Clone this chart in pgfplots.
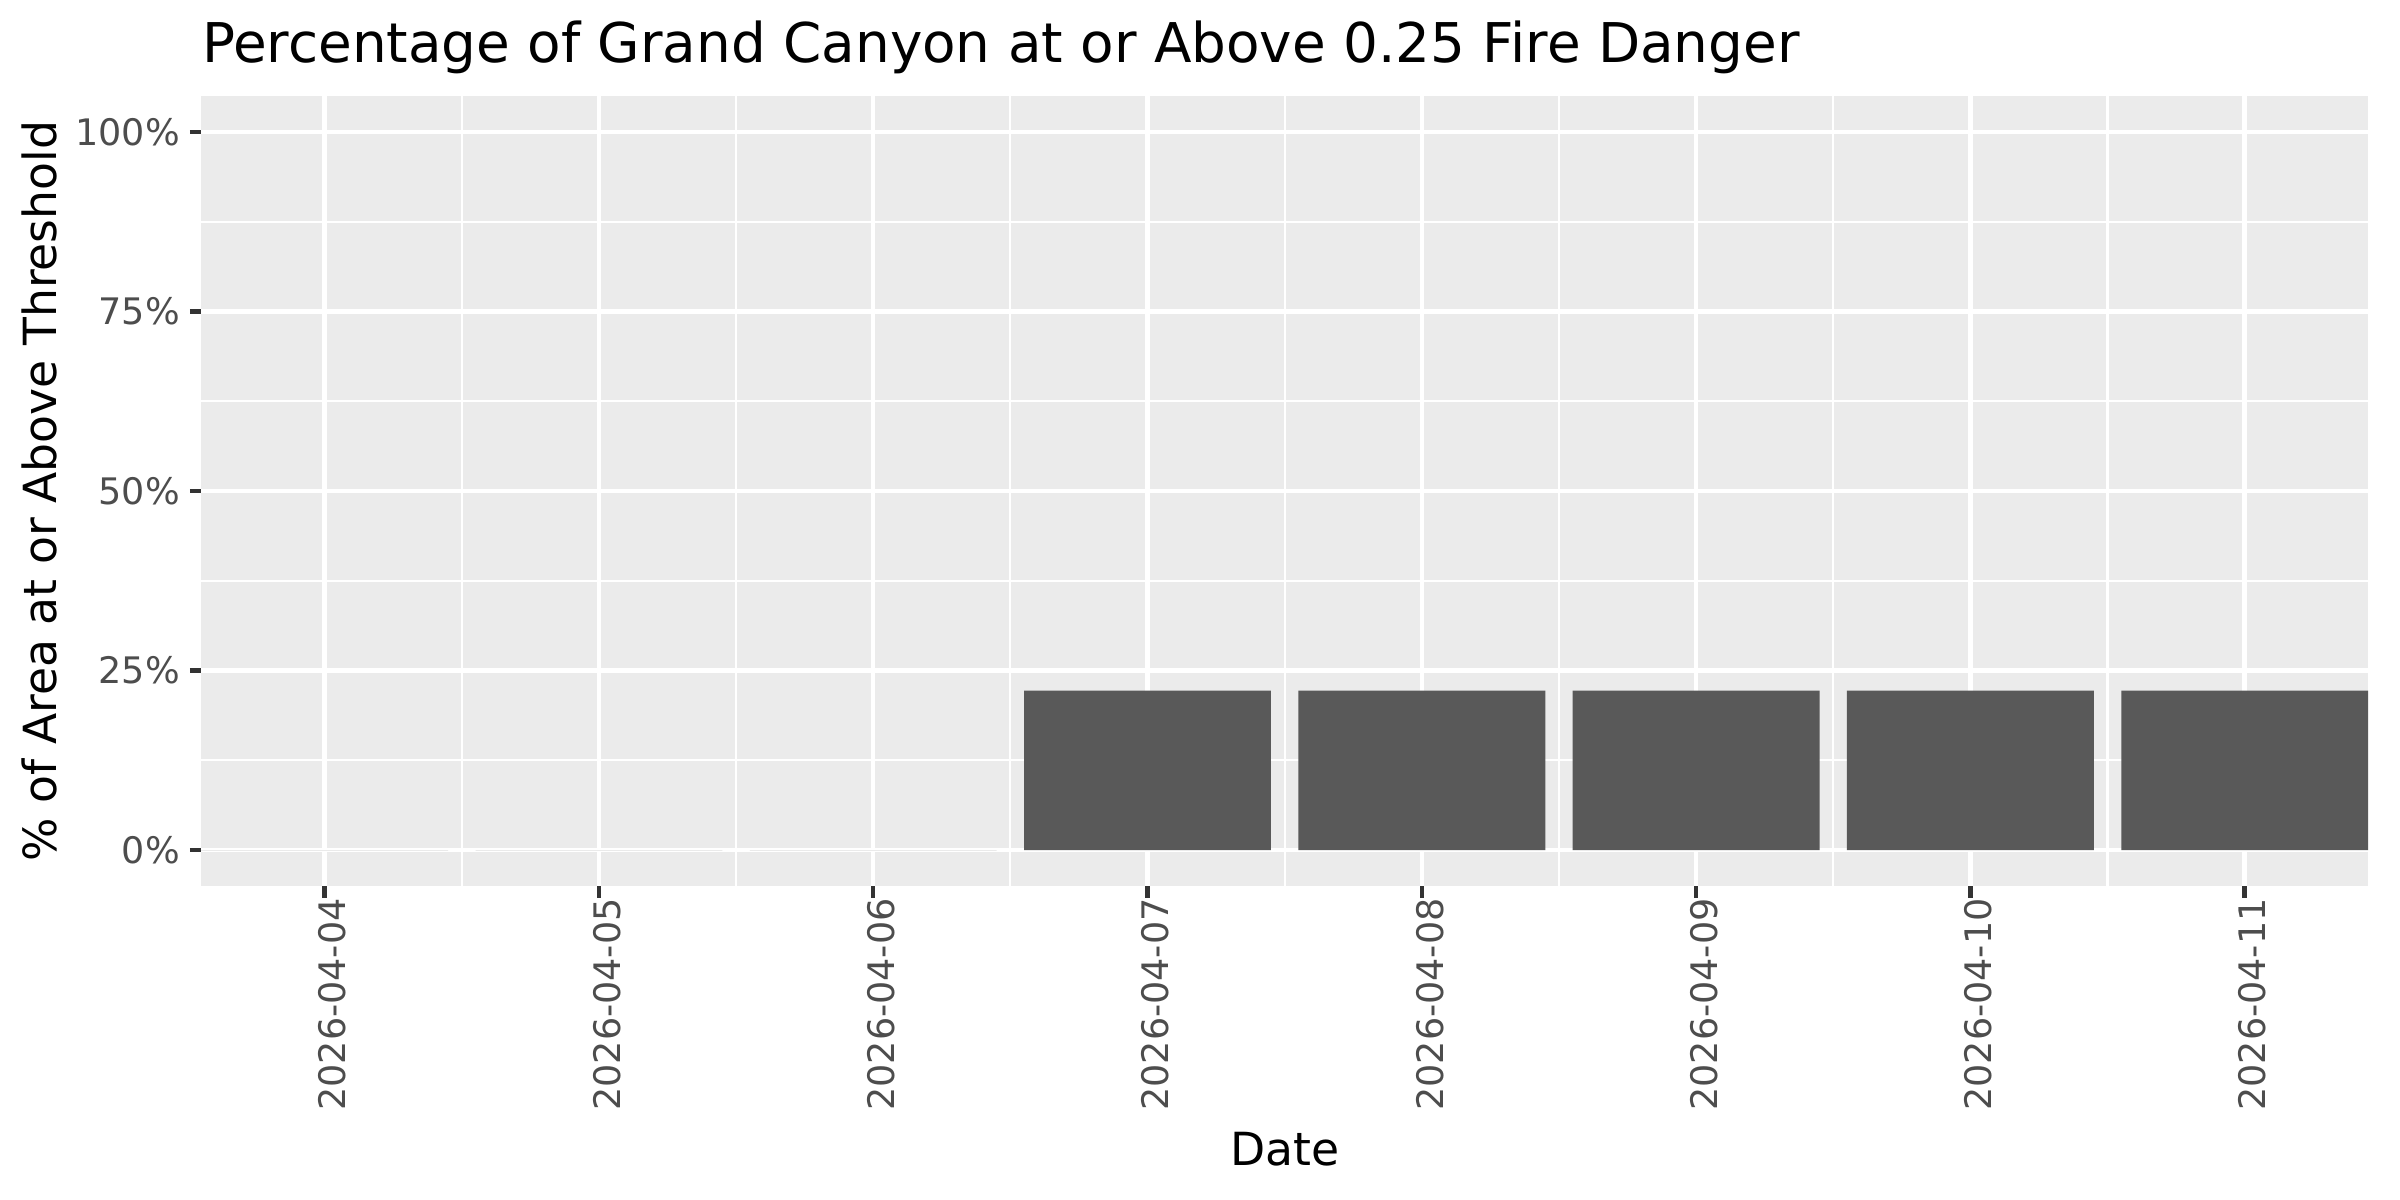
\documentclass[border=0pt]{standalone}
\usepackage{fontspec}
\setmainfont{DejaVu Sans}
\usepackage{pgfplots}
\pgfplotsset{compat=1.18}
\definecolor{panelbg}{HTML}{EBEBEB}
\definecolor{barfill}{HTML}{595959}
\definecolor{ticktext}{HTML}{4D4D4D}
\definecolor{tickmark}{HTML}{333333}
\begin{document}
\begin{tikzpicture}
\path[use as bounding box] (0,0) rectangle (578.16pt,289.08pt);
\begin{axis}[
    at={(48.48pt,75.62pt)}, anchor=south west,
    scale only axis,
    width=522pt, height=190.35pt,
    xmin=0.55, xmax=8.45,
    ymin=-5, ymax=105,
    axis background/.style={fill=panelbg},
    axis line style={draw=none},
    xtick={1,...,8},
    xticklabels={2026-04-04,2026-04-05,2026-04-06,2026-04-07,2026-04-08,2026-04-09,2026-04-10,2026-04-11},
    ytick={0,25,50,75,100},
    yticklabels={0\%,25\%,50\%,75\%,100\%},
    minor xtick={1.5,2.5,...,7.5},
    minor ytick={12.5,37.5,62.5,87.5},
    grid=both,
    major grid style={white, line width=1.07pt},
    minor grid style={white, line width=0.53pt},
    tick align=outside,
    major tick length=2.75pt,
    minor tick length=0pt,
    xtick pos=bottom, ytick pos=left,
    major tick style={tickmark, line width=1.07pt},
    xticklabel style={rotate=90, anchor=east, inner sep=0pt, yshift=-1.9pt,
        text=ticktext, font=\fontsize{8.8}{10}\selectfont},
    yticklabel style={anchor=east, inner sep=0pt, xshift=-2.2pt,
        text=ticktext, font=\fontsize{8.8}{10}\selectfont},
    every axis title shift=0pt,
    title={Percentage of Grand Canyon at or Above 0.25 Fire Danger},
    title style={at={(axis description cs:0,1.0426)}, anchor=base west,
        inner sep=0pt, font=\fontsize{13.2}{15}\selectfont},
    xlabel={Date},
    xlabel style={at={(axis description cs:0.5,-0.3537)}, anchor=base,
        inner sep=0pt, font=\fontsize{11}{13}\selectfont},
    ylabel={\% of Area at or Above Threshold},
    ylabel style={at={(axis description cs:-0.0668,0.5)}, anchor=base,
        inner sep=0pt, font=\fontsize{11}{13}\selectfont},
]
\addplot[ybar, bar width=0.9, fill=barfill, draw=none] coordinates {
    (1,0) (2,0) (3,0) (4,22.2) (5,22.2) (6,22.2) (7,22.2) (8,22.2)
};
\end{axis}
\end{tikzpicture}
\end{document}
